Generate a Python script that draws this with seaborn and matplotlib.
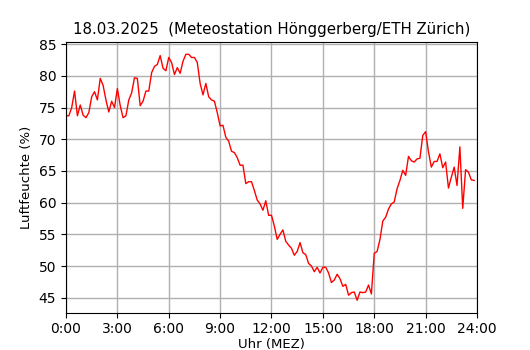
import matplotlib
matplotlib.use("Agg")
import matplotlib.pyplot as plt
import seaborn as sns
import pandas as pd

# Luftfeuchte alle 10 Minuten, 18.03.2025 (Hönggerberg)
minutes = list(range(0, 1440, 10))
humidity = [
    73.7, 73.7, 75.0, 77.6, 73.7, 75.4, 73.8, 73.4, 74.2, 76.7, 77.5, 76.2,   # 0-2h
    79.6, 78.5, 76.2, 74.3, 76.0, 75.0, 78.0, 75.3, 73.4, 73.7, 76.2, 77.3,   # 2-4h
    79.7, 79.6, 75.3, 76.0, 77.6, 77.6, 80.5, 81.5, 81.8, 83.2, 81.2, 80.8,   # 4-6h
    82.9, 82.1, 80.2, 81.3, 80.4, 82.3, 83.4, 83.4, 82.9, 82.9, 82.1, 78.8,   # 6-8h
    77.0, 78.8, 76.7, 76.2, 76.0, 74.2, 72.1, 72.2, 70.3, 69.7, 68.1, 67.9,   # 8-10h
    67.1, 65.9, 65.9, 63.0, 63.3, 63.3, 61.9, 60.4, 59.8, 58.8, 60.3, 58.0,   # 10-12h
    58.0, 56.3, 54.2, 55.0, 55.7, 53.9, 53.3, 52.8, 51.7, 52.3, 53.7, 52.1,   # 12-14h
    51.8, 50.4, 50.0, 49.1, 49.8, 48.9, 49.8, 49.8, 48.9, 47.4, 47.8, 48.7,   # 14-16h
    48.0, 46.8, 47.1, 45.4, 45.8, 45.9, 44.6, 45.9, 45.8, 45.9, 47.0, 45.6,   # 16-18h
    52.0, 52.3, 54.2, 57.1, 57.7, 59.0, 59.8, 60.1, 62.2, 63.5, 65.1, 64.3,   # 18-20h
    67.3, 66.6, 66.4, 66.9, 67.0, 70.6, 71.2, 68.0, 65.6, 66.5, 66.5, 67.7,   # 20-22h
    65.5, 66.4, 62.3, 64.0, 65.6, 62.7, 68.8, 59.1, 65.2, 64.8, 63.6, 63.5,   # 22-24h
]
tick_hours = [0, 3, 6, 9, 12, 15, 18, 21, 24]
tick_labels = [f"{h}:00" for h in tick_hours]

df = pd.DataFrame({"hour": [m / 60 for m in minutes], "humidity": humidity})

fig = plt.figure(figsize=(5.3, 3.5), dpi=100)
ax = fig.add_axes([0.1245, 0.107, 0.7755, 0.773])
sns.lineplot(data=df, x="hour", y="humidity", color="red", linewidth=1, ax=ax)

ax.set_xlim(0, 24)
ax.set_xticks(tick_hours)
ax.set_xticklabels(tick_labels)
ax.set_yticks(range(45, 86, 5))
ax.grid(True, color="#b0b0b0", linewidth=1)
ax.set_axisbelow(True)
ax.set_xlabel("Uhr (MEZ)", labelpad=1, fontsize=9.5)
ax.set_ylabel("Luftfeuchte (%)", fontsize=9.5)
ax.set_title("18.03.2025  (Meteostation Hönggerberg/ETH Zürich)", fontsize=10.8)

fig.savefig("out.png", dpi=100)
